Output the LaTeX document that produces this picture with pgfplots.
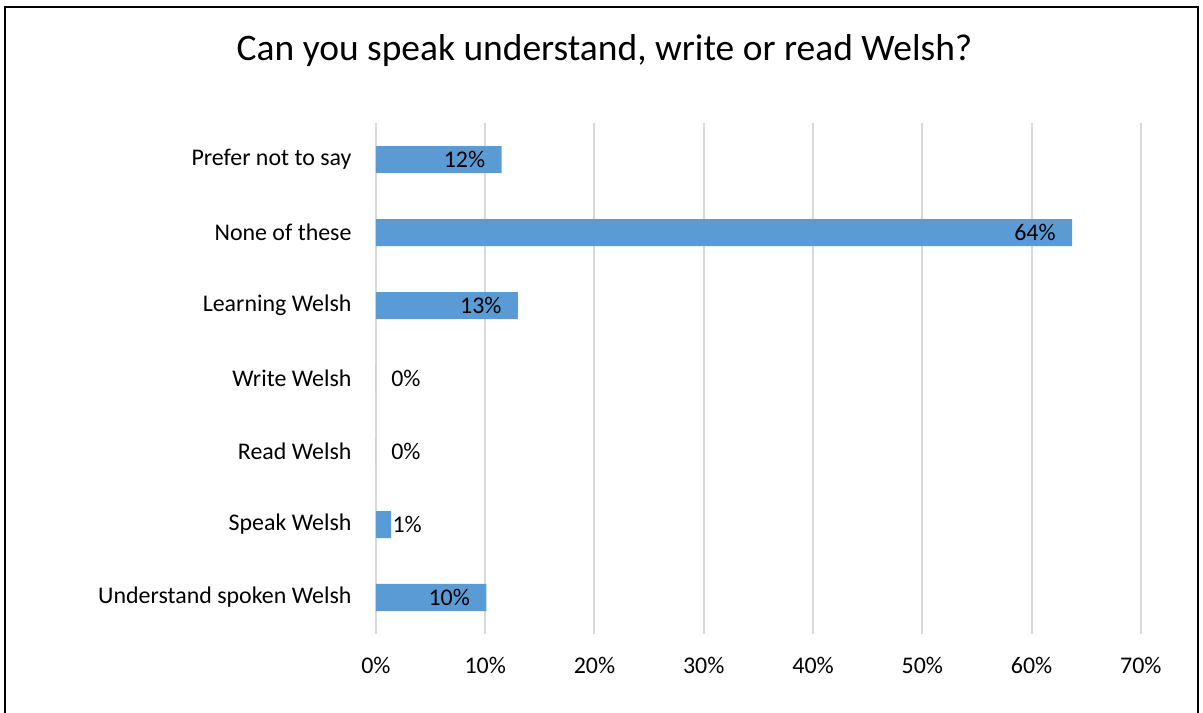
\documentclass[border=0pt]{standalone}
\usepackage{fontspec}
\setmainfont{Carlito}
\usepackage{pgfplots}
\pgfplotsset{compat=1.18}
\usepackage{pgfplotstable}
\definecolor{barblue}{HTML}{5B9BD5}
\definecolor{gridgray}{HTML}{D9D9D9}

% pos: 0 = bottom category; label = shown value
\pgfplotstableread{
pos value label
0 10.1 10
1 1.4 1
2 0 0
3 0 0
4 13.0 13
5 63.7 64
6 11.5 12
}\welshdata

% labels set inside the bar end
\pgfplotstableread{
pos value label
0 10.1 10
4 13.0 13
5 63.7 64
6 11.5 12
}\insidelabels

% labels set just right of small bars (lx = where the text starts)
\pgfplotstableread{
pos lx label
1 1.49 1
2 1.37 0
3 1.37 0
}\outsidelabels

\begin{document}
\begin{tikzpicture}
\useasboundingbox (0,0) rectangle (601.5bp,356.5bp);
\draw[line width=1bp] (2.5bp,0) -- (2.5bp,352.75bp) -- (599bp,352.75bp) -- (599bp,0);
\node[font=\fontsize{18.8}{22}\selectfont] at (302.25bp,331bp) {Can you speak understand, write or read Welsh?};
\begin{axis}[
  at={(187.95bp,39.5bp)}, anchor=south west,
  scale only axis, width=382.5bp, height=255.5bp,
  xmin=0, xmax=70, ymin=-0.5, ymax=6.5,
  clip=false,
  axis line style={draw=none},
  tick style={draw=none},
  xmajorgrids, grid style={gridgray, line width=1bp},
  xtick={0,10,...,70},
  xticklabel={\pgfmathprintnumber{\tick}\%},
  ytick={0,...,6},
  yticklabels={Understand spoken Welsh, Speak Welsh, Read Welsh, Write Welsh, Learning Welsh, None of these, Prefer not to say},
  ticklabel style={font=\fontsize{12}{14}\selectfont},
  /pgf/number format/assume math mode=true,
  yticklabel style={anchor=east, inner sep=0pt, xshift=-12bp},
  xticklabel style={anchor=north, inner sep=0pt, yshift=-11.5bp},
  labelstyle/.style={draw=none, mark=none, point meta=explicit,
    nodes near coords={\pgfmathprintnumber{\pgfplotspointmeta}\%},
    every node near coord/.append style={inner sep=0pt,
      font=\fontsize{12}{14}\selectfont, text=black}},
]
\addplot[xbar, bar width=13.5bp, fill=barblue, draw=none] table[x=value, y=pos] {\welshdata};
\addplot[labelstyle, nodes near coords style={anchor=east, xshift=-8bp}]
  table[x=value, y=pos, meta=label] {\insidelabels};
\addplot[labelstyle, nodes near coords style={anchor=west}]
  table[x=lx, y=pos, meta=label] {\outsidelabels};
\end{axis}
\end{tikzpicture}
\end{document}
